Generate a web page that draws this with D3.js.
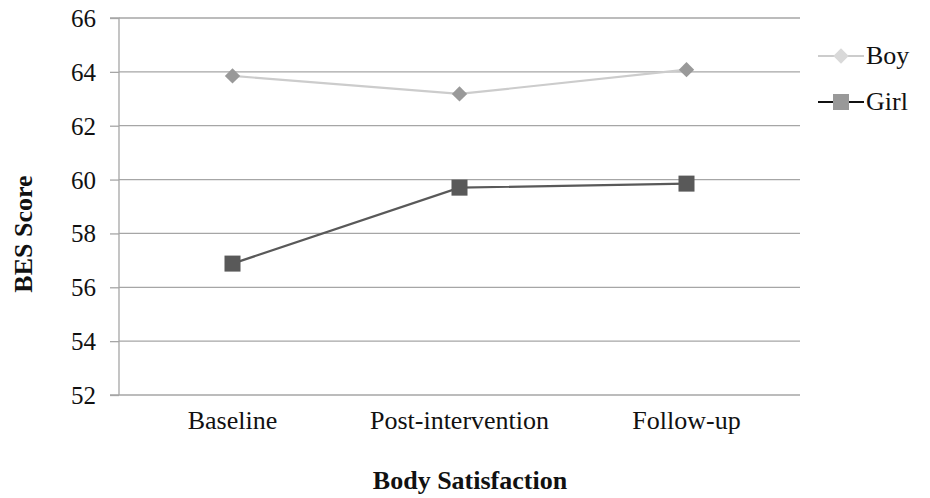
<!DOCTYPE html>
<html><head><meta charset="utf-8">
<script src="https://cdn.jsdelivr.net/npm/d3@7"></script>
<style>body{margin:0;background:#fff}svg{display:block}</style>
</head><body>
<svg id="c" width="930" height="498"></svg>
<script>
const categories = ["Baseline", "Post-intervention", "Follow-up"];
const boyValues = [63.85, 63.18, 64.08];
const girlValues = [56.88, 59.7, 59.85];
const yTicks = [52, 54, 56, 58, 60, 62, 64, 66];
const seriesNames = ["Boy", "Girl"];

const FONT = '"Liberation Serif", "Times New Roman", serif';
const svg = d3.select("#c");
const m = {l:119, r:800, t:18, b:395};
const x = d3.scaleBand().domain(categories).range([m.l, m.r]);
const y = d3.scaleLinear().domain([52, 66]).range([m.b, m.t]);

// gridlines
svg.append("g").selectAll("line").data(yTicks.filter(d => d > 52)).join("line")
  .attr("x1", m.l).attr("x2", m.r).attr("y1", d => y(d)).attr("y2", d => y(d))
  .attr("stroke", "#a6a6a6").attr("stroke-width", 1.3);

// y axis
const ya = svg.append("g").attr("transform", `translate(${m.l},0)`)
  .call(d3.axisLeft(y).tickValues(yTicks).tickSize(9).tickPadding(14).tickFormat(d3.format("d")));
ya.select(".domain").attr("stroke", "#a6a6a6").attr("stroke-width", 1.3).attr("d", `M-9,${m.t}H0V${m.b}`);
ya.selectAll(".tick line").attr("stroke", "#a6a6a6").attr("stroke-width", 1.3);
ya.selectAll(".tick text").style("font-size", "25px").style("font-family", FONT).attr("fill", "#111").attr("dy", "0.34em");

// x axis
const xa = svg.append("g").attr("transform", `translate(0,${m.b})`)
  .call(d3.axisBottom(x).tickSize(0).tickPadding(16));
xa.select(".domain").attr("stroke", "#a6a6a6").attr("stroke-width", 1.3).attr("d", `M${m.l-9},0H${m.r}`);
xa.selectAll(".tick text").style("font-size", "26px").style("font-family", FONT).attr("fill", "#111");

const cx = c => x(c) + x.bandwidth() / 2;
const line = d3.line().x((d, i) => cx(categories[i])).y(d => y(d));

// Boy
svg.append("path").datum(boyValues).attr("d", line).attr("fill", "none").attr("stroke", "#cccccc").attr("stroke-width", 2.2);
const dia = d3.symbol().type(d3.symbolDiamond2).size(150);
svg.append("g").selectAll("path").data(boyValues).join("path")
  .attr("d", dia).attr("transform", (d, i) => `translate(${cx(categories[i])},${y(d)})`).attr("fill", "#999999");

// Girl
svg.append("path").datum(girlValues).attr("d", line).attr("fill", "none").attr("stroke", "#595959").attr("stroke-width", 2.2);
svg.append("g").selectAll("rect").data(girlValues).join("rect")
  .attr("x", (d, i) => cx(categories[i]) - 8).attr("y", d => y(d) - 8)
  .attr("width", 16).attr("height", 16).attr("fill", "#595959");

// legend
const lg = svg.append("g");
const ly = [56, 102];
lg.append("line").attr("x1", 818).attr("x2", 864).attr("y1", ly[0]).attr("y2", ly[0]).attr("stroke", "#cccccc").attr("stroke-width", 2.2);
lg.append("path").attr("d", dia).attr("transform", `translate(841,${ly[0]})`).attr("fill", "#d9d9d9");
lg.append("line").attr("x1", 818).attr("x2", 864).attr("y1", ly[1]).attr("y2", ly[1]).attr("stroke", "#111").attr("stroke-width", 2.2);
lg.append("rect").attr("x", 833).attr("y", ly[1] - 8).attr("width", 16).attr("height", 16).attr("fill", "#999999");
lg.selectAll("text").data(seriesNames).join("text")
  .attr("x", 866).attr("y", (d, i) => ly[i] + 8).style("font-size", "26px").style("font-family", FONT).attr("fill", "#111").text(d => d);

// axis titles
svg.append("text").attr("transform", `translate(32,234) rotate(-90)`)
  .attr("text-anchor", "middle").style("font-size", "26px").style("font-family", FONT).attr("font-weight", "bold").attr("fill", "#111").text("BES Score");
svg.append("text").attr("x", 470).attr("y", 489)
  .attr("text-anchor", "middle").style("font-size", "26px").style("font-family", FONT).attr("font-weight", "bold").attr("fill", "#111").text("Body Satisfaction");
</script>
</body></html>
